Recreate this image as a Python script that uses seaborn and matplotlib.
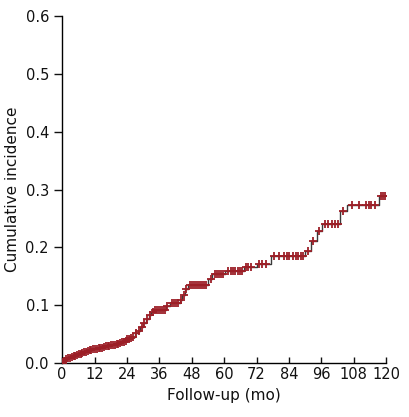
import numpy as np
import matplotlib
matplotlib.use("Agg")
import matplotlib.pyplot as plt
import seaborn as sns

sns.set_style("white")
plt.rcParams['font.family'] = ['DejaVu Sans']
plt.rcParams['text.color'] = '#111111'
plt.rcParams['axes.labelcolor'] = '#111111'
plt.rcParams['xtick.color'] = '#111111'
plt.rcParams['ytick.color'] = '#111111'

# Step curve: event times (months) and cumulative incidence after each step
event_times = [0.0, 0.5, 1.2, 2, 3, 4, 5, 6, 7, 8, 9, 10, 11, 12, 13, 14, 15,
               16, 17, 18, 19, 20, 21, 22, 23, 24, 25, 26, 27, 28, 29, 30, 31,
               32, 33, 34, 38.5, 40, 43.5, 44.5, 45.5, 46.5, 54, 55.5, 60.5,
               67.5, 72, 77.5, 90, 92, 94.3, 96.3, 102.8, 105.5, 117.3, 120]
cum_inc = [0.0, 0.004, 0.007, 0.009, 0.011, 0.013, 0.015, 0.016, 0.018, 0.019,
           0.021, 0.022, 0.024, 0.025, 0.026, 0.027, 0.028, 0.029, 0.030, 0.031,
           0.032, 0.034, 0.035, 0.037, 0.039, 0.041, 0.043, 0.046, 0.052, 0.056,
           0.063, 0.069, 0.076, 0.083, 0.089, 0.092, 0.098, 0.104, 0.110, 0.118,
           0.128, 0.135, 0.145, 0.154, 0.159, 0.166, 0.171, 0.185, 0.194, 0.211,
           0.229, 0.240, 0.263, 0.273, 0.289, 0.289]

# Censored observations (months)
censor_times = [0.3, 0.8, 1.5, 2.2, 2.8, 3.5, 4.2, 4.8, 5.5, 6.2, 6.8, 7.5,
                8.2, 8.8, 9.5, 10.2, 10.8, 11.5, 12.2, 12.8, 13.5, 14.2, 14.8,
                15.5, 16.2, 16.8, 17.5, 18.2, 18.8, 19.5, 20.2, 20.8, 21.5,
                22.2, 22.8, 23.5, 24.2, 24.8, 25.5, 26.2, 27.5, 28.5, 29.5,
                30.5, 31.5, 32.5, 33.5, 34.5, 35.2, 35.8, 36.5, 37.2, 38.0,
                39.0, 40.8, 41.5, 42.2, 43.0, 44.0, 45.0, 46.0, 47.2, 48.0,
                48.8, 49.5, 50.3, 51.0, 51.8, 52.6, 53.4, 55.0, 56.5, 57.2,
                58.0, 58.8, 59.5, 61.5, 62.5, 63.3, 64.2, 65.0, 65.8, 66.6,
                68.2, 69.0, 69.8, 73.0, 74.0, 75.5, 78.5, 80.5, 82.0, 83.3,
                84.2, 85.5, 86.5, 87.5, 88.5, 89.3, 91.0, 93.0, 95.0, 97.5,
                98.5, 100.0, 101.0, 102.0, 104.0, 107.5, 110.0, 112.5, 113.5,
                114.5, 116.0, 118.0, 118.8, 119.5]

x_ticks = [0, 12, 24, 36, 48, 60, 72, 84, 96, 108, 120]
y_ticks = [0.0, 0.1, 0.2, 0.3, 0.4, 0.5, 0.6]

fig = plt.figure(figsize=(4.09, 4.17), dpi=100)
ax = fig.add_axes([0.152, 0.129, 0.792, 0.833])

sns.lineplot(x=event_times, y=cum_inc, drawstyle="steps-post", color="#3a3a3a",
             linewidth=1.0, ax=ax, estimator=None)

idx = np.searchsorted(event_times, censor_times, side="right") - 1
censor_y = np.array(cum_inc)[idx]
sns.scatterplot(x=censor_times, y=censor_y, marker="+", color="#9c1f27",
                s=26, linewidth=1.3, ax=ax, zorder=3)

ax.set_xlim(0, 120)
ax.set_ylim(0, 0.6)
ax.set_xticks(x_ticks)
ax.set_yticks(y_ticks)
ax.set_yticklabels([f"{v:.1f}" for v in y_ticks])
ax.set_xlabel("Follow-up (mo)", fontsize=11)
ax.set_ylabel("Cumulative incidence", fontsize=11)

for side in ["top", "right"]:
    ax.spines[side].set_visible(False)
for side in ["left", "bottom"]:
    ax.spines[side].set_color("black")
    ax.spines[side].set_linewidth(1.0)

ax.tick_params(axis="x", direction="in", length=4, width=1, labelsize=10.5, pad=3, bottom=True)
ax.tick_params(axis="y", direction="out", length=6, width=1, labelsize=10.5, left=True)

fig.savefig("out.png", dpi=100)
